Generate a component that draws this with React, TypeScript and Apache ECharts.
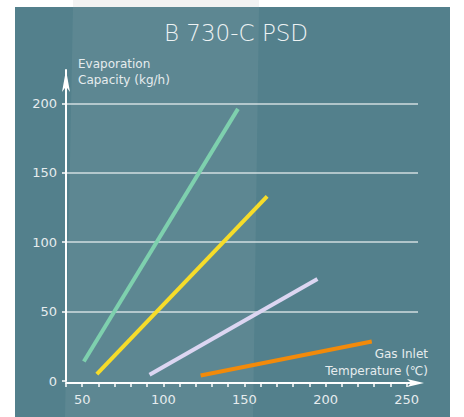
import React, { useEffect, useRef } from "react";
import * as echarts from "echarts";

const titleText = "B 730-C PSD";
const yAxisName = "Evaporation\nCapacity (kg/h)";
const xAxisName = "Gas Inlet\nTemperature (\u2103)";

const xTickValues = [40, 50, 60, 70, 80, 90, 100, 110, 120, 130, 140, 150, 160, 170, 180, 190, 200, 210, 220, 230, 240, 250];
const xLabelValues = [50, 100, 150, 200, 250];
const yLabelValues = [0, 50, 100, 150, 200];
const gridValues = [50, 100, 150, 200];

const greenLine = [[51, 14], [146, 196]];
const yellowLine = [[59, 5], [164, 133]];
const purpleLine = [[91.5, 4.5], [195, 73.5]];
const orangeLine = [[123, 4], [228.5, 28.5]];

const seriesColors = ["#7ed0ae", "#f6dc2a", "#dcd6f2", "#f28a0a"];

const FONT = "DejaVu Sans";
const LABEL_COLOR = "#e6ecee";

export default function App() {
  const ref = useRef<HTMLDivElement>(null);
  useEffect(() => {
    if (!ref.current) return;
    const chart = echarts.init(ref.current, undefined, { renderer: "svg" });
    const lines = [greenLine, yellowLine, purpleLine, orangeLine];
    const series: any[] = lines.map((d, i) => ({
      type: "line",
      data: d,
      symbol: "none",
      lineStyle: { color: seriesColors[i], width: 4, cap: "butt" },
      z: 5,
    }));
    series[0].markLine = {
      silent: true,
      symbol: "none",
      label: { show: false },
      lineStyle: { color: "rgba(255,255,255,0.72)", width: 1.5, type: "solid" },
      data: gridValues.map((v) => ({ yAxis: v })),
      z: 1,
    };
    chart.setOption({
      animation: false,
      backgroundColor: "#ffffff",
      graphic: [
        { type: "rect", shape: { x: 15, y: 7, width: 435, height: 410 }, style: { fill: "#53808c" }, z: -10 },
        { type: "rect", shape: { x: 73, y: 0, width: 186, height: 7 }, style: { fill: "#f2f2f2" }, z: -10 },
        {
          type: "polygon",
          shape: { points: [[73, 7], [259, 7], [253, 417], [65, 417]] },
          style: { fill: "#5d8792" },
          z: -9,
        },
        {
          type: "text",
          x: 236,
          y: 33,
          style: {
            text: titleText,
            fill: "#eef3f4",
            font: `300 23px "${FONT}"`,
            textAlign: "center",
            textVerticalAlign: "middle",
          },
        },
        {
          type: "text",
          x: 78,
          y: 56,
          style: {
            text: yAxisName,
            fill: LABEL_COLOR,
            font: `12px "${FONT}"`,
            lineHeight: 16,
            textAlign: "left",
            textVerticalAlign: "top",
          },
        },
        {
          type: "text",
          x: 428,
          y: 345,
          style: {
            text: xAxisName,
            fill: LABEL_COLOR,
            font: `12px "${FONT}"`,
            lineHeight: 17,
            textAlign: "right",
            textVerticalAlign: "top",
          },
        },
      ],
      grid: { left: 66, right: 46, top: 70, bottom: 36, containLabel: false },
      xAxis: {
        type: "value",
        min: 40,
        max: 257,
        offset: 2,
        axisLine: {
          show: true,
          onZero: false,
          lineStyle: { color: "#ffffff", width: 2 },
          symbol: ["none", "arrow"],
          symbolSize: [6, 17],
          symbolOffset: [0, 6],
        },
        axisTick: { show: true, customValues: xTickValues, length: 4, lineStyle: { color: "#ffffff", width: 1.5 } },
        axisLabel: { customValues: xLabelValues, margin: 10, color: LABEL_COLOR, fontSize: 13, fontFamily: FONT },
        splitLine: { show: false },
      },
      yAxis: {
        type: "value",
        min: 0,
        max: 224,
        axisLine: {
          show: true,
          lineStyle: { color: "#ffffff", width: 2 },
          symbol: ["none", "arrow"],
          symbolSize: [6, 22],
          symbolOffset: [0, 0],
        },
        axisTick: { show: true, customValues: yLabelValues, length: 4, lineStyle: { color: "#ffffff", width: 1.5 } },
        axisLabel: { customValues: yLabelValues, margin: 9, color: LABEL_COLOR, fontSize: 13, fontFamily: FONT },
        splitLine: { show: false },
      },
      series,
    });
    return () => chart.dispose();
  }, []);
  return (
    <div
      ref={ref}
      style={{ position: "absolute", left: 0, top: 0, width: 464, height: 417 }}
    />
  );
}
